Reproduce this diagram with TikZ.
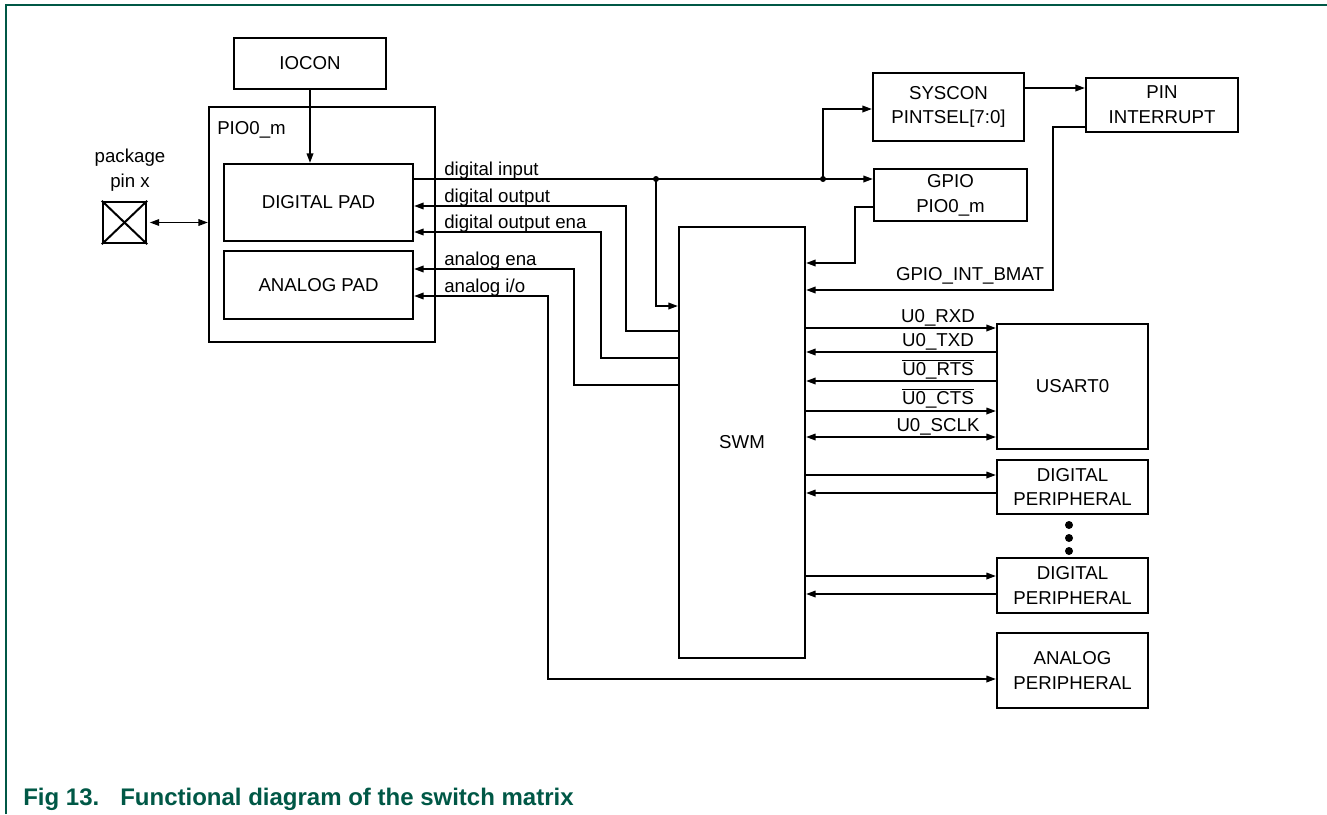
\documentclass[tikz,border=0pt]{standalone}
\usepackage{fontspec}
\setmainfont{Liberation Sans}
\usetikzlibrary{arrows.meta}
\definecolor{nxpgreen}{RGB}{0,88,70}
\newcommand\mybox[6]{\node[box, minimum width={(#4-#2)*0.75pt}, minimum height={(#5-#3)*0.75pt}] (#1) at ({(#2+#4)/2},{(#3+#5)/2}) {#6};}
\begin{document}
\begin{tikzpicture}[x=0.75pt,y=-0.75pt,
  font=\fontsize{14}{18.5}\selectfont,
  box/.style={draw, line width=1.8pt, inner sep=0pt, align=center},
  conn/.style={line width=0.9pt},
  arr/.style={conn, -{Triangle[length=7pt,width=5pt]}},
  barr/.style={conn, {Triangle[length=7pt,width=5pt]}-{Triangle[length=7pt,width=5pt]}},
  lbl/.style={inner sep=0pt, anchor=base west},
  rlbl/.style={inner sep=0pt, anchor=base},
  jdot/.style={circle, fill, inner sep=0pt, minimum size=4.5pt}]
\useasboundingbox (0,0) rectangle (1327,814);
% frame
\draw[nxpgreen, line width=1.5pt] (6,814) -- (6,4.5) -- (1327,4.5);
% boxes
\mybox{iocon}{234}{38}{386}{89}{IOCON}
\mybox{pio}{209}{107}{435}{342}{}
\node[inner sep=0pt, anchor=west] (piolbl) at (217,130) {PIO0\_m};
\mybox{dpad}{224}{164}{413}{241}{DIGITAL PAD}
\mybox{apad}{224}{251}{413}{319}{ANALOG PAD}
\mybox{pin}{103}{202}{146}{243}{}
\draw[line width=1.5pt] (pin.north west) -- (pin.south east) (pin.north east) -- (pin.south west);
\node[inner sep=0pt, align=center] (pinlbl) at (130,170) {package\\pin x};
\mybox{syscon}{873}{73}{1024}{141}{SYSCON\\PINTSEL[7:0]}
\mybox{pinint}{1086}{78}{1238}{132}{PIN\\INTERRUPT}
\mybox{gpio}{874}{169}{1027}{221}{GPIO\\PIO0\_m}
\mybox{swm}{679}{227}{805}{658}{SWM}
\mybox{usart}{997}{324}{1148}{449}{USART0}
\mybox{dp1}{997}{460}{1148}{514}{DIGITAL\\PERIPHERAL}
\mybox{dp2}{997}{558}{1148}{613}{DIGITAL\\PERIPHERAL}
\mybox{ap}{997}{633}{1148}{708}{ANALOG\\PERIPHERAL}
% dots between peripherals
\foreach \yy/\nm in {525/da,538/db,551/dc} \node[jdot, minimum size=6pt] (\nm) at (1069,\yy) {};
% connectors left
\draw[arr] (iocon.south) -- (iocon.south |- dpad.north);
\draw[barr] ([xshift=2pt]pin.east) -- (pin.east -| pio.west);
\coordinate (j1) at (656,179);
\coordinate (j2) at (823,179);
\draw[arr] (dpad.east |- j1) -- (j2 -| gpio.west);
\node[jdot] at (j1) {};
\node[jdot] at (j2) {};
\draw[arr] (j2) |- (syscon.west |- 0,109);
\draw[arr] (j1) |- (swm.west |- 0,306);
\draw[arr] (syscon.east |- 0,88) -- (pinint.west |- 0,88);
\draw[arr] (pinint.west |- 0,127) -| (1053,290) -- (swm.east |- 0,290);
\draw[arr] (gpio.west |- 0,207) -| (855,263) -- (swm.east |- 0,263);
\draw[arr] (swm.west |- 0,331) -| (626,206) -- (dpad.east |- 0,206);
\draw[arr] (swm.west |- 0,358) -| (601,232) -- (dpad.east |- 0,232);
\draw[arr] (swm.west |- 0,385) -| (574,269) -- (apad.east |- 0,269);
\draw[barr] (apad.east |- 0,296) -| (548,679) -- (ap.west |- 0,679);
% labels left
\node[lbl] (l1) at (444,175) {digital input};
\node[lbl] (l2) at (444,202) {digital output};
\node[lbl] (l3) at (444,228) {digital output ena};
\node[lbl] (l4) at (444,265) {analog ena};
\node[lbl] (l5) at (444,292) {analog i/o};
\node[rlbl] (l6) at (970,280) {GPIO\_INT\_BMAT};
% usart connectors
\draw[arr] (swm.east |- 0,328) -- (usart.west |- 0,328);
\draw[arr] (usart.west |- 0,352) -- (swm.east |- 0,352);
\draw[arr] (usart.west |- 0,381) -- (swm.east |- 0,381);
\draw[arr] (swm.east |- 0,411) -- (usart.west |- 0,411);
\draw[barr] (swm.east |- 0,437) -- (usart.west |- 0,437);
\node[rlbl] (u1) at (938,322) {U0\_RXD};
\node[rlbl] (u2) at (938,346) {U0\_TXD};
\node[rlbl] (u3) at (938,375) {$\overline{\mbox{U0\_RTS}}$};
\node[rlbl] (u4) at (938,404) {$\overline{\mbox{U0\_CTS}}$};
\node[rlbl] (u5) at (938,431) {U0\_SCLK};
% peripherals
\draw[arr] (swm.east |- 0,475) -- (dp1.west |- 0,475);
\draw[arr] (dp1.west |- 0,493) -- (swm.east |- 0,493);
\draw[arr] (swm.east |- 0,576) -- (dp2.west |- 0,576);
\draw[arr] (dp2.west |- 0,594) -- (swm.east |- 0,594);
% caption
\node[anchor=base west, inner sep=0pt, text=nxpgreen, font=\fontsize{18}{20}\selectfont\bfseries] (cap1) at (23,805) {Fig 13.};
\node[anchor=base west, inner sep=0pt, text=nxpgreen, font=\fontsize{18}{20}\selectfont\bfseries] (cap2) at (120,805) {Functional diagram of the switch matrix};
\end{tikzpicture}
\end{document}
